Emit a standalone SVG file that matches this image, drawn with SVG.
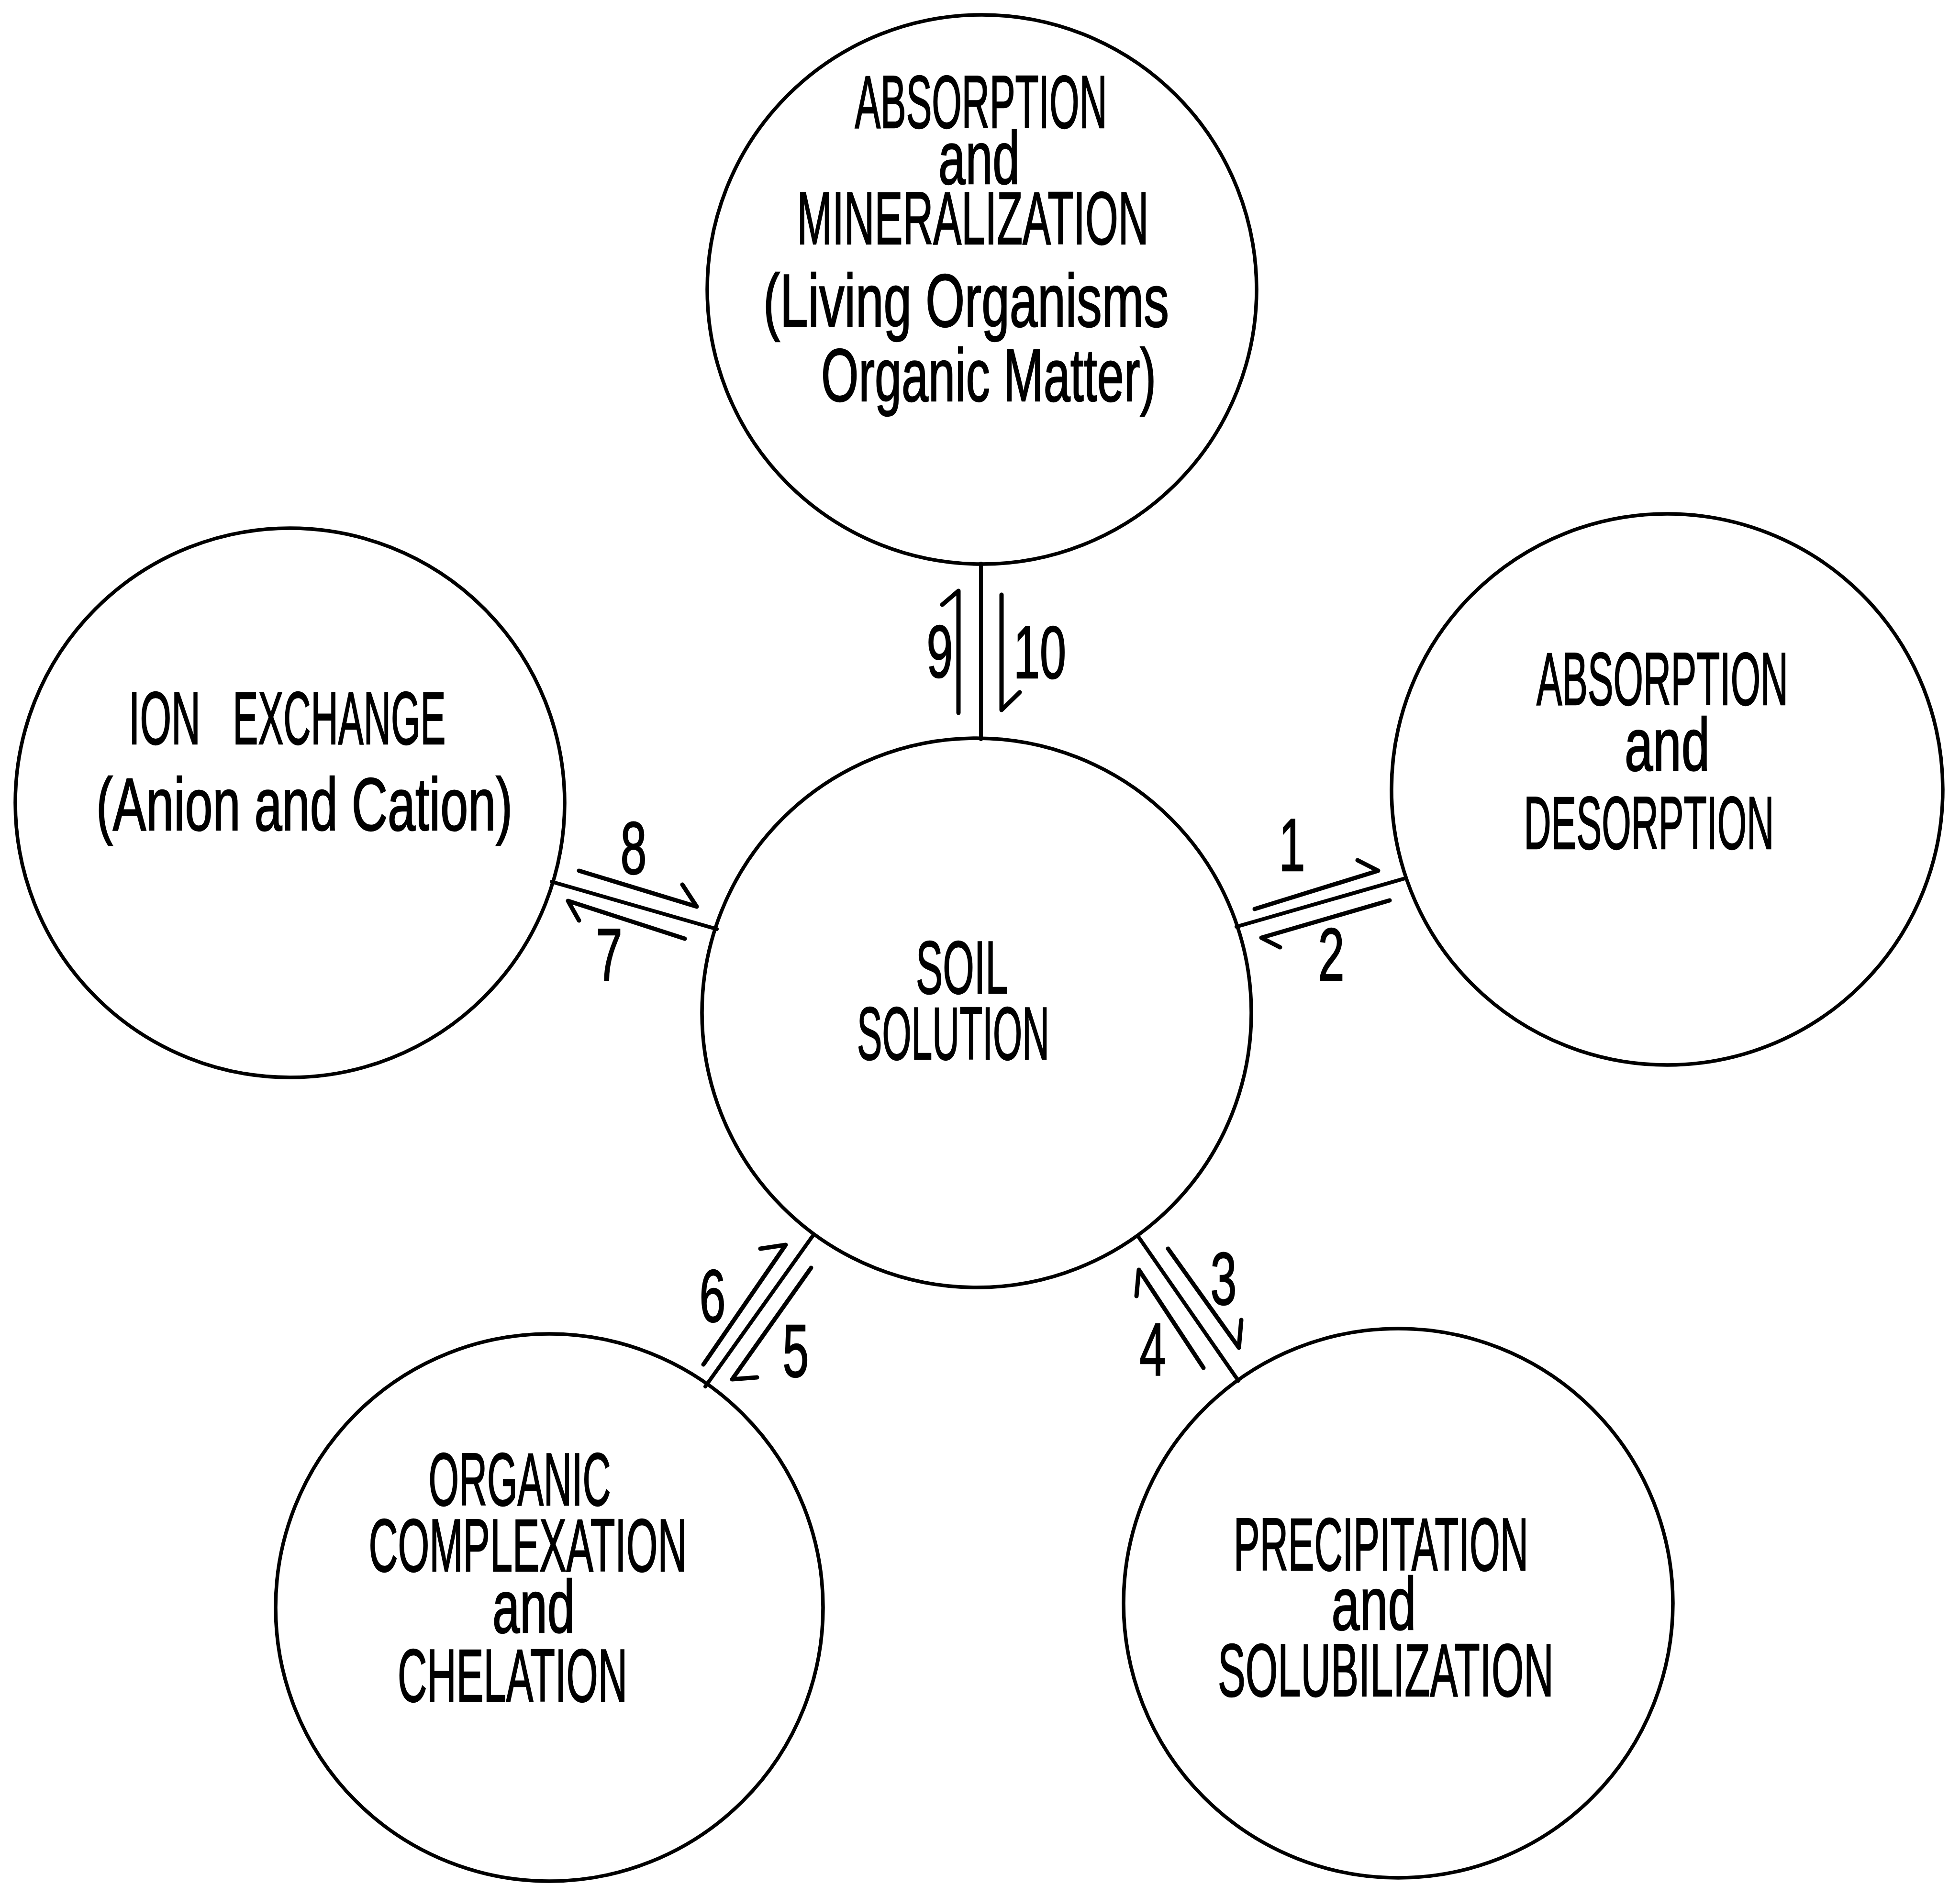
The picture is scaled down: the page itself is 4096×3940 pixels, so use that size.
<svg xmlns="http://www.w3.org/2000/svg" width="4096" height="3940" viewBox="0 0 4096 3940">
<style>
.bg{fill:#fff}
.node circle{fill:none;stroke:#000;stroke-width:7.5}
.t{font-family:"Liberation Sans","DejaVu Sans",sans-serif;font-size:156px;text-anchor:middle;fill:#000;stroke:#000;stroke-width:2.5}
.conn line,.conn polyline{stroke:#000;stroke-width:8;stroke-linecap:round;stroke-linejoin:round;fill:none}
.conn .ar{stroke-width:9}
</style>
<rect class="bg" x="0" y="0" width="4096" height="3940"/>
<g id="node-absorption-mineralization" class="node">
<circle cx="2052" cy="605" r="574"/>
<text class="t" x="2050" y="267" textLength="527" lengthAdjust="spacingAndGlyphs">ABSORPTION</text>
<text class="t" x="2046" y="384" textLength="170" lengthAdjust="spacingAndGlyphs">and</text>
<text class="t" x="2033" y="510" textLength="735" lengthAdjust="spacingAndGlyphs">MINERALIZATION</text>
<text class="t" x="2019" y="682" textLength="848" lengthAdjust="spacingAndGlyphs">(Living Organisms</text>
<text class="t" x="2066" y="838" textLength="700" lengthAdjust="spacingAndGlyphs">Organic Matter)</text>
</g>
<g id="node-ion-exchange" class="node">
<circle cx="606" cy="1678" r="574"/>
<text class="t" x="344" y="1555" textLength="150" lengthAdjust="spacingAndGlyphs">ION</text>
<text class="t" x="709" y="1555" textLength="445" lengthAdjust="spacingAndGlyphs">EXCHANGE</text>
<text class="t" x="636" y="1735" textLength="870" lengthAdjust="spacingAndGlyphs">(Anion and Cation)</text>
</g>
<g id="node-absorption-desorption" class="node">
<circle cx="3484" cy="1650" r="576"/>
<text class="t" x="3474" y="1473" textLength="526" lengthAdjust="spacingAndGlyphs">ABSORPTION</text>
<text class="t" x="3484" y="1610" textLength="178" lengthAdjust="spacingAndGlyphs">and</text>
<text class="t" x="3446" y="1774" textLength="523" lengthAdjust="spacingAndGlyphs">DESORPTION</text>
</g>
<g id="node-soil-solution" class="node">
<circle cx="2041" cy="2117" r="574"/>
<text class="t" x="2010" y="2076" textLength="192" lengthAdjust="spacingAndGlyphs">SOIL</text>
<text class="t" x="1992" y="2214" textLength="402" lengthAdjust="spacingAndGlyphs">SOLUTION</text>
</g>
<g id="node-organic-complexation" class="node">
<circle cx="1148" cy="3360" r="572"/>
<text class="t" x="1086" y="3146" textLength="381" lengthAdjust="spacingAndGlyphs">ORGANIC</text>
<text class="t" x="1103" y="3284" textLength="665" lengthAdjust="spacingAndGlyphs">COMPLEXATION</text>
<text class="t" x="1115" y="3412" textLength="172" lengthAdjust="spacingAndGlyphs">and</text>
<text class="t" x="1071" y="3556" textLength="480" lengthAdjust="spacingAndGlyphs">CHELATION</text>
</g>
<g id="node-precipitation" class="node">
<circle cx="2922" cy="3351" r="574"/>
<text class="t" x="2886" y="3282" textLength="616" lengthAdjust="spacingAndGlyphs">PRECIPITATION</text>
<text class="t" x="2871" y="3406" textLength="177" lengthAdjust="spacingAndGlyphs">and</text>
<text class="t" x="2896" y="3545" textLength="702" lengthAdjust="spacingAndGlyphs">SOLUBILIZATION</text>
</g>
<g id="connectors" class="conn">
<line x1="2050" y1="1178" x2="2050" y2="1545"/>
<polyline class="ar" points="2003,1490 2003,1235 1969,1264"/>
<polyline class="ar" points="2093,1243 2093,1484 2131,1447"/>
<line x1="2584" y1="1937" x2="2936" y2="1836"/>
<polyline class="ar" points="2622,1900 2880,1820 2837,1798"/>
<polyline class="ar" points="2904,1882 2636,1960 2675,1980"/>
<line x1="1153" y1="1843" x2="1498" y2="1942"/>
<polyline class="ar" points="1210,1820 1456,1895 1426,1849"/>
<polyline class="ar" points="1431,1962 1187,1883 1210,1924"/>
<line x1="1700" y1="2581" x2="1474" y2="2898"/>
<polyline class="ar" points="1470,2852 1642,2602 1589,2610"/>
<polyline class="ar" points="1695,2650 1530,2883 1582,2879"/>
<line x1="2379" y1="2585" x2="2588" y2="2886"/>
<polyline class="ar" points="2441,2610 2589,2817 2594,2759"/>
<polyline class="ar" points="2515,2859 2380,2654 2375,2709"/>
<text class="t" x="1964" y="1415" textLength="55" lengthAdjust="spacingAndGlyphs">9</text>
<text class="t" x="2173" y="1417" textLength="110" lengthAdjust="spacingAndGlyphs">10</text>
<text class="t" x="2700" y="1820" textLength="55" lengthAdjust="spacingAndGlyphs">1</text>
<text class="t" x="2782" y="2049" textLength="55" lengthAdjust="spacingAndGlyphs">2</text>
<text class="t" x="1324" y="1826" textLength="55" lengthAdjust="spacingAndGlyphs">8</text>
<text class="t" x="1273" y="2050" textLength="55" lengthAdjust="spacingAndGlyphs">7</text>
<text class="t" x="1489" y="2762" textLength="55" lengthAdjust="spacingAndGlyphs">6</text>
<text class="t" x="1663" y="2877" textLength="55" lengthAdjust="spacingAndGlyphs">5</text>
<text class="t" x="2557" y="2726" textLength="55" lengthAdjust="spacingAndGlyphs">3</text>
<text class="t" x="2409" y="2874" textLength="55" lengthAdjust="spacingAndGlyphs">4</text>
</g>
</svg>
